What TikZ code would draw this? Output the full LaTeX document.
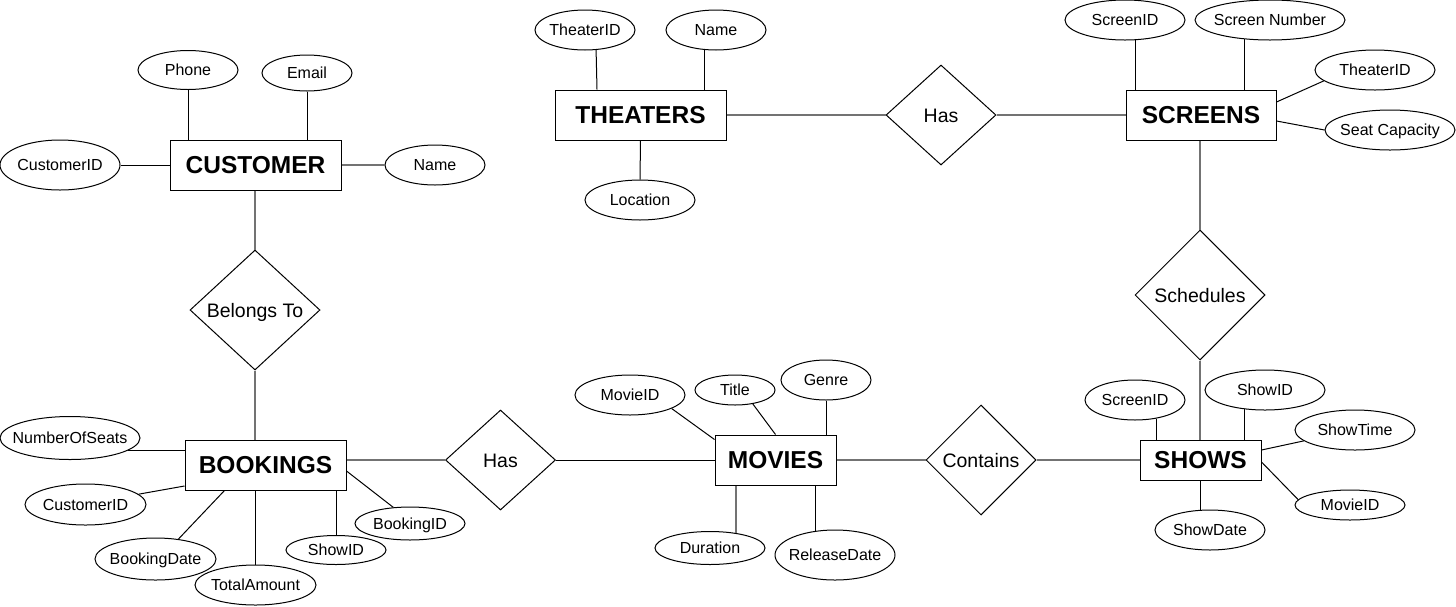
\documentclass[tikz,border=0pt]{standalone}
\usepackage{fontspec}
\setmainfont{Liberation Sans}
\usetikzlibrary{shapes.geometric}
\newcommand\mbx[1]{\makebox[0pt]{#1}}
\begin{document}
\begin{tikzpicture}[x=1pt,y=-1pt,
 entity/.style={draw, line width=1pt, rectangle, inner sep=0pt, font=\fontsize{24.5}{28}\selectfont\bfseries, text height=17.5pt, text depth=0pt},
 rel/.style={draw, line width=1pt, diamond, inner sep=0pt, font=\fontsize{19.5}{23}\selectfont, text height=14pt, text depth=0pt},
 attr/.style={draw, line width=1pt, ellipse, inner sep=0pt, font=\fontsize{16}{19}\selectfont, text height=11.5pt, text depth=0pt},
 link/.style={line width=1pt, black},
 soft/.style={line width=1.5pt, black!55}]
\useasboundingbox (0,0) rectangle (1456,606);

% entities
\node[entity, minimum width=171pt, minimum height=50pt] (CUSTOMER) at (255.5,165) {CUSTOMER};
\node[entity, minimum width=161pt, minimum height=50pt] (BOOKINGS) at (265.5,465) {BOOKINGS};
\node[entity, minimum width=171pt, minimum height=50pt] (THEATERS) at (640.5,115) {THEATERS};
\node[entity, minimum width=150pt, minimum height=50pt] (SCREENS) at (1201,115) {SCREENS};
\node[entity, minimum width=121pt, minimum height=50pt] (MOVIES) at (775.5,460) {MOVIES};
\node[entity, minimum width=121pt, minimum height=40pt] (SHOWS) at (1200.5,460) {SHOWS};

% relationships
\node[rel, minimum width=130pt, minimum height=120pt] (BelongsTo) at (255,310) {Belongs To};
\node[rel, minimum width=110pt, minimum height=100pt] (HasTop) at (941,115) {Has};
\node[rel, minimum width=110pt, minimum height=100pt] (HasBot) at (500.5,460) {Has};
\node[rel, minimum width=110pt, minimum height=110pt] (Contains) at (981,460) {Contains};
\node[rel, minimum width=130pt, minimum height=130pt] (Schedules) at (1200,295) {Schedules};

% attributes
\node[attr, minimum width=100pt, minimum height=39pt] (Phone) at (188,70) {\mbx{Phone}};
\node[attr, minimum width=90pt, minimum height=36pt] (Email) at (307,73) {\mbx{Email}};
\node[attr, minimum width=120pt, minimum height=50pt] (CustomerID) at (60,165) {\mbx{CustomerID}};
\node[attr, minimum width=100pt, minimum height=40pt] (Name) at (435,165) {\mbx{Name}};
\node[attr, minimum width=140pt, minimum height=43pt] (NumberOfSeats) at (70,438) {\mbx{NumberOfSeats}};
\node[attr, minimum width=121pt, minimum height=41pt] (CustomerIDb) at (85.5,504.5) {\mbx{CustomerID}};
\node[attr, minimum width=121pt, minimum height=42pt] (BookingDate) at (155.5,559) {\mbx{BookingDate}};
\node[attr, minimum width=121pt, minimum height=40pt] (TotalAmount) at (255.5,585) {\mbx{TotalAmount}};
\node[attr, minimum width=100pt, minimum height=29pt] (ShowID) at (336,550) {\mbx{ShowID}};
\node[attr, minimum width=110pt, minimum height=33pt] (BookingID) at (410,523.5) {\mbx{BookingID}};
\node[attr, minimum width=100pt, minimum height=40pt] (TheaterID) at (585,30) {\mbx{TheaterID}};
\node[attr, minimum width=100pt, minimum height=40pt] (TName) at (716,30) {\mbx{Name}};
\node[attr, minimum width=110pt, minimum height=40pt] (Location) at (640,200) {\mbx{Location}};
\node[attr, minimum width=120pt, minimum height=40pt] (ScreenID) at (1125,20) {\mbx{ScreenID}};
\node[attr, minimum width=150pt, minimum height=40pt] (ScreenNumber) at (1270,20) {\mbx{Screen Number}};
\node[attr, minimum width=120pt, minimum height=40pt] (TheaterIDb) at (1375,70) {\mbx{TheaterID}};
\node[attr, minimum width=130pt, minimum height=40pt] (SeatCapacity) at (1390,130) {\mbx{Seat Capacity}};
\node[attr, minimum width=110pt, minimum height=40pt] (MovieID) at (630,395) {\mbx{MovieID}};
\node[attr, minimum width=80pt, minimum height=30pt] (Title) at (735,390) {\mbx{Title}};
\node[attr, minimum width=90pt, minimum height=40pt] (Genre) at (826,380) {\mbx{Genre}};
\node[attr, minimum width=110pt, minimum height=33pt] (Duration) at (710,548) {\mbx{Duration}};
\node[attr, minimum width=120pt, minimum height=50pt] (ReleaseDate) at (835,555) {\mbx{ReleaseDate}};
\node[attr, minimum width=100pt, minimum height=40pt] (ScreenIDb) at (1135,400) {\mbx{ScreenID}};
\node[attr, minimum width=120pt, minimum height=40pt] (ShowIDb) at (1265,390) {\mbx{ShowID}};
\node[attr, minimum width=120pt, minimum height=40pt] (ShowTime) at (1355,430) {\mbx{ShowTime}};
\node[attr, minimum width=110pt, minimum height=30pt] (MovieIDb) at (1350,505) {\mbx{MovieID}};
\node[attr, minimum width=110pt, minimum height=40pt] (ShowDate) at (1210,530) {\mbx{ShowDate}};

% CUSTOMER connectors
\draw[link] (Phone.south) -- (Phone.south |- CUSTOMER.north);
\draw[link] (Email.south) -- (Email.south |- CUSTOMER.north);
\draw[link] (CustomerID.east) -- (CUSTOMER.west);
\draw[soft] (CUSTOMER.east) -- (Name.west);
\draw[soft] (BelongsTo.north |- CUSTOMER.south) -- (BelongsTo.north);
\draw[soft] (BelongsTo.south) -- (BelongsTo.south |- BOOKINGS.north);

% BOOKINGS connectors
\draw[link] (NumberOfSeats.-12) -- (NumberOfSeats.-12 -| BOOKINGS.west);
\draw[link] (CustomerIDb.11) -- ([yshift=-21pt]BOOKINGS.west);
\draw[link] (BookingDate.41) -- ([xshift=40pt]BOOKINGS.south west);
\draw[link] (TotalAmount.north) -- (TotalAmount.north |- BOOKINGS.south);
\draw[link] (ShowID.north) -- (ShowID.north |- BOOKINGS.south);
\draw[link] (BookingID.136) -- ([yshift=-6pt]BOOKINGS.east);
\draw[soft] (HasBot.west -| BOOKINGS.east) -- (HasBot.west);
\draw[link] (HasBot.east) -- (HasBot.east -| MOVIES.west);

% MOVIES connectors
\draw[link] (MovieID.-18) -- ([yshift=-5pt]MOVIES.north west);
\draw[link] (Title.-38) -- (MOVIES.north);
\draw[link] (Genre.south) -- (Genre.south |- MOVIES.north);
\draw[soft] (Duration.30) -- (Duration.30 |- MOVIES.south);
\draw[link] (ReleaseDate.129) -- (ReleaseDate.129 |- MOVIES.south);
\draw[soft] (MOVIES.east) -- (Contains.west);
\draw[soft] (Contains.east) -- (Contains.east -| SHOWS.west);

% SHOWS connectors
\draw[soft] (Schedules.south) -- (Schedules.south |- SHOWS.north);
\draw[link] (ScreenIDb.-41) -- (ScreenIDb.-41 |- SHOWS.north);
\draw[link] (ShowIDb.224) -- (ShowIDb.224 |- SHOWS.north);
\draw[link] (ShowTime.192) -- ([yshift=10pt]SHOWS.east);
\draw[link] (MovieIDb.174) -- ([yshift=-2pt]SHOWS.east);
\draw[link] (ShowDate.116) -- (ShowDate.116 |- SHOWS.south);

% SCREENS connectors
\draw[link] (ScreenID.-62) -- (ScreenID.-62 |- SCREENS.north);
\draw[link] (ScreenNumber.217) -- (ScreenNumber.217 |- SCREENS.north);
\draw[link] (TheaterIDb.192) -- ([yshift=13pt]SCREENS.east);
\draw[link] (SeatCapacity.west) -- ([yshift=-6pt]SCREENS.east);
\draw[soft] (HasTop.east) -- (HasTop.east -| SCREENS.west);
\draw[soft] (Schedules.north |- SCREENS.south) -- (Schedules.north);

% THEATERS connectors
\draw[link] (TheaterID.-61) -- ([xshift=42.5pt]THEATERS.north west);
\draw[link] (TName.-119) -- (TName.-119 |- THEATERS.north);
\draw[link] (THEATERS.south) -- (Location.north);
\draw[soft] (THEATERS.east) -- (HasTop.west);
\end{tikzpicture}
\end{document}
